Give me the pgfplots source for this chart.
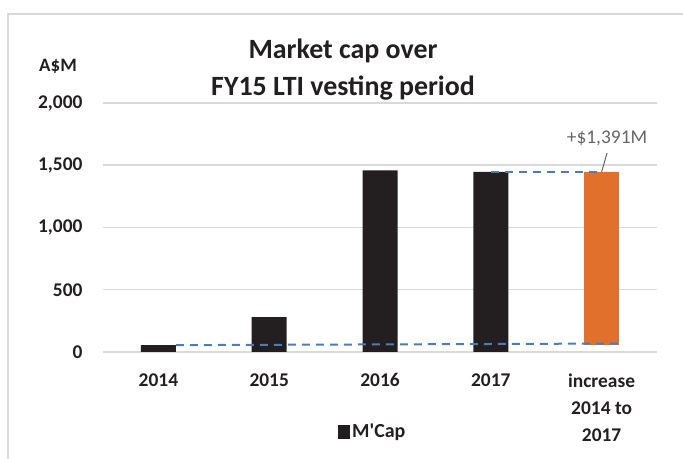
\documentclass[border=0pt]{standalone}
\usepackage{fontspec}
\setmainfont{Carlito}
\usepackage{pgfplots}
\pgfplotsset{compat=1.18}
\definecolor{barblack}{HTML}{231F20}
\definecolor{barorange}{HTML}{E0702B}
\definecolor{gridgray}{HTML}{D9D9D9}
\definecolor{dashblue}{HTML}{4A7CC0}
\definecolor{labgray}{HTML}{666666}
\begin{document}
\begin{tikzpicture}[x=1bp,y=1bp]
\useasboundingbox (0,0) rectangle (683,459);
\draw[gridgray, line width=1.5bp] (8,0) -- (8,445) -- (683,445);
\node[font=\fontsize{28}{34}\selectfont\bfseries, text=barblack] at (343,408) {Market cap over};
\node[font=\fontsize{28}{34}\selectfont\bfseries, text=barblack] at (343,371) {FY15 LTI vesting period};
\node[font=\fontsize{19}{23}\selectfont\bfseries, text=barblack] at (58,393) {A\$M};
\begin{axis}[
  at={(103bp,107bp)}, anchor=south west,
  scale only axis, width=554bp, height=249bp,
  xmin=-0.5, xmax=4.5, ymin=0, ymax=2000,
  axis line style={draw=none},
  major tick style={draw=none},
  ytick={0,500,1000,1500,2000},
  ymajorgrids, grid style={gridgray, line width=1.5bp},
  yticklabel style={font=\fontsize{19.5}{23}\selectfont\bfseries, text=barblack, anchor=east, xshift=-17bp},
  /pgf/number format/assume math mode=true,
  /pgf/number format/1000 sep={,},
  xtick={0,1,2,3,4},
  xticklabels={2014,2015,2016,2017,{increase\\2014 to\\2017}},
  xticklabel style={font=\fontsize{19.5}{27.5}\selectfont\bfseries, text=barblack, align=center, anchor=north, yshift=-18bp},
  clip=false,
  legend style={at={(0.487,-0.321)}, anchor=center, draw=none, fill=none,
    font=\fontsize{20}{24}\selectfont\bfseries, text=barblack},
  legend image code/.code={\fill[barblack] (0bp,-7bp) rectangle (12bp,7bp);},
]
\addplot[ybar, bar width=0.316, fill=barblack, draw=none] coordinates {(0,55) (1,281) (2,1459) (3,1446)};
\addlegendentry{M\textquotesingle Cap}
\addplot[fill=barorange, draw=none, forget plot] coordinates {(3.842,55) (4.158,55) (4.158,1446) (3.842,1446)} -- cycle;
\addplot[dashblue, line width=2bp, dash pattern=on 8bp off 6bp, forget plot] coordinates {(0.158,55) (4.158,68)};
\addplot[dashblue, line width=2bp, dash pattern=on 8bp off 6bp, forget plot] coordinates {(3,1446) (3.955,1446)};
\addplot[labgray, line width=1bp, forget plot] coordinates {(4.049,1598) (4.0,1446)};
\node[font=\fontsize{19.5}{23}\selectfont, text=labgray] at (axis cs:4.049,1712) {+\$1,391M};
\end{axis}
\end{tikzpicture}
\end{document}
